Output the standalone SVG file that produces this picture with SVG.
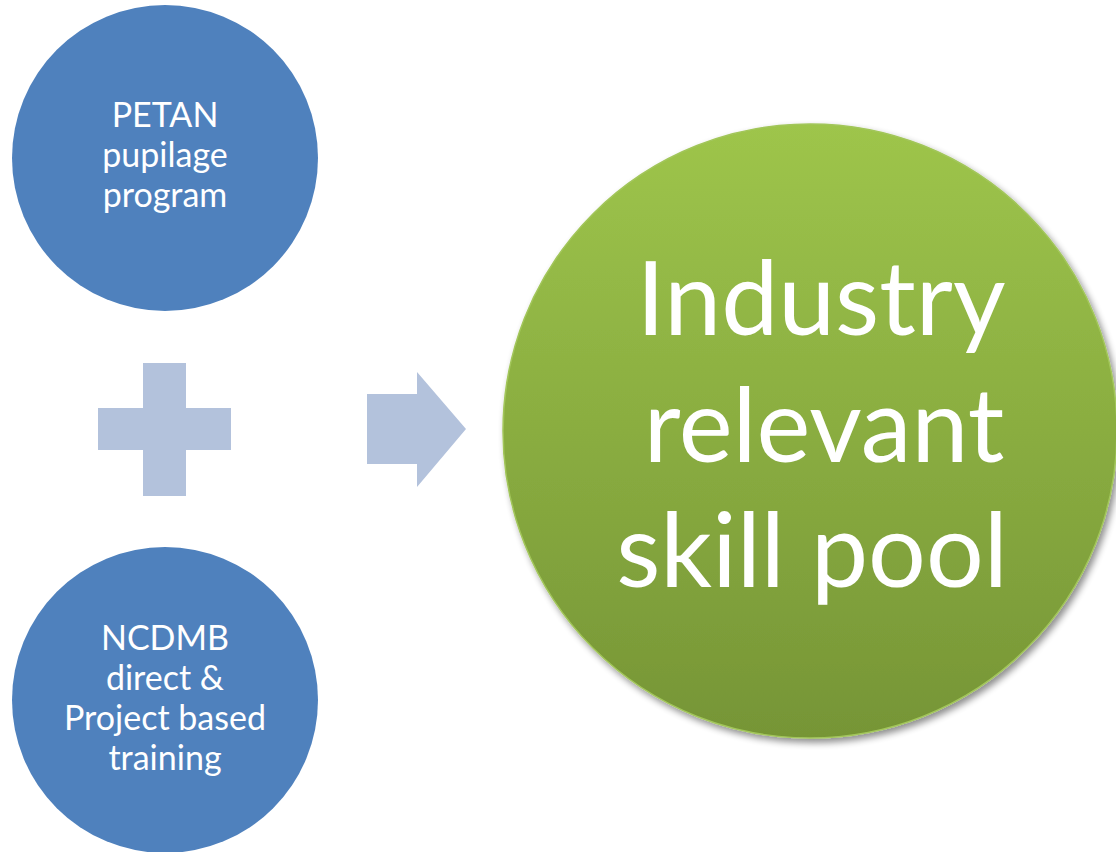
<svg xmlns="http://www.w3.org/2000/svg" width="1116" height="852" viewBox="0 0 1116 852">
<defs>
<linearGradient id="gGreen" x1="0" y1="0" x2="0" y2="1">
<stop offset="0" stop-color="#9EC54B"/>
<stop offset="1" stop-color="#769536"/>
</linearGradient>
<filter id="shadow" x="-10%" y="-10%" width="125%" height="125%">
<feGaussianBlur in="SourceAlpha" stdDeviation="3.5"/>
<feOffset dx="3" dy="4" result="b"/>
<feComponentTransfer><feFuncA type="linear" slope="0.45"/></feComponentTransfer>
<feMerge><feMergeNode/><feMergeNode in="SourceGraphic"/></feMerge>
</filter>
</defs>
<style>
.blue{fill:#4F81BD}
.sym{fill:#B3C2DC}
.t{font-family:Lato,"Open Sans","Liberation Sans",sans-serif;fill:#FFFFFF;text-anchor:middle}
.small{font-size:34px}
.big{font-size:102px}
</style>
<rect width="1116" height="852" fill="#FFFFFF"/>
<g id="node-petan">
<circle class="blue" cx="165" cy="158" r="153"/>
<text class="t small" x="165" y="127">PETAN</text>
<text class="t small" x="165" y="167">pupilage</text>
<text class="t small" x="165" y="207">program</text>
</g>
<g id="node-ncdmb">
<circle class="blue" cx="165" cy="700" r="153"/>
<text class="t small" x="165" y="650">NCDMB</text>
<text class="t small" x="165" y="690">direct &amp;</text>
<text class="t small" x="165" y="730">Project based</text>
<text class="t small" x="165" y="770">training</text>
</g>
<g id="node-plus">
<path class="sym" d="M143 363H186V408H231V450H186V496H143V450H98V408H143Z"/>
</g>
<g id="connectors">
<path class="sym" d="M367 394H417V372L466 429L417 487V464H367Z"/>
</g>
<g id="node-skill-pool">
<circle cx="810" cy="431" r="307" fill="url(#gGreen)" stroke="#A2C65A" stroke-width="1.5" filter="url(#shadow)"/>
<text class="t big" x="821" y="335">Industry</text>
<text class="t big" x="824" y="462">relevant</text>
<text class="t big" x="812" y="587">skill pool</text>
</g>
</svg>
